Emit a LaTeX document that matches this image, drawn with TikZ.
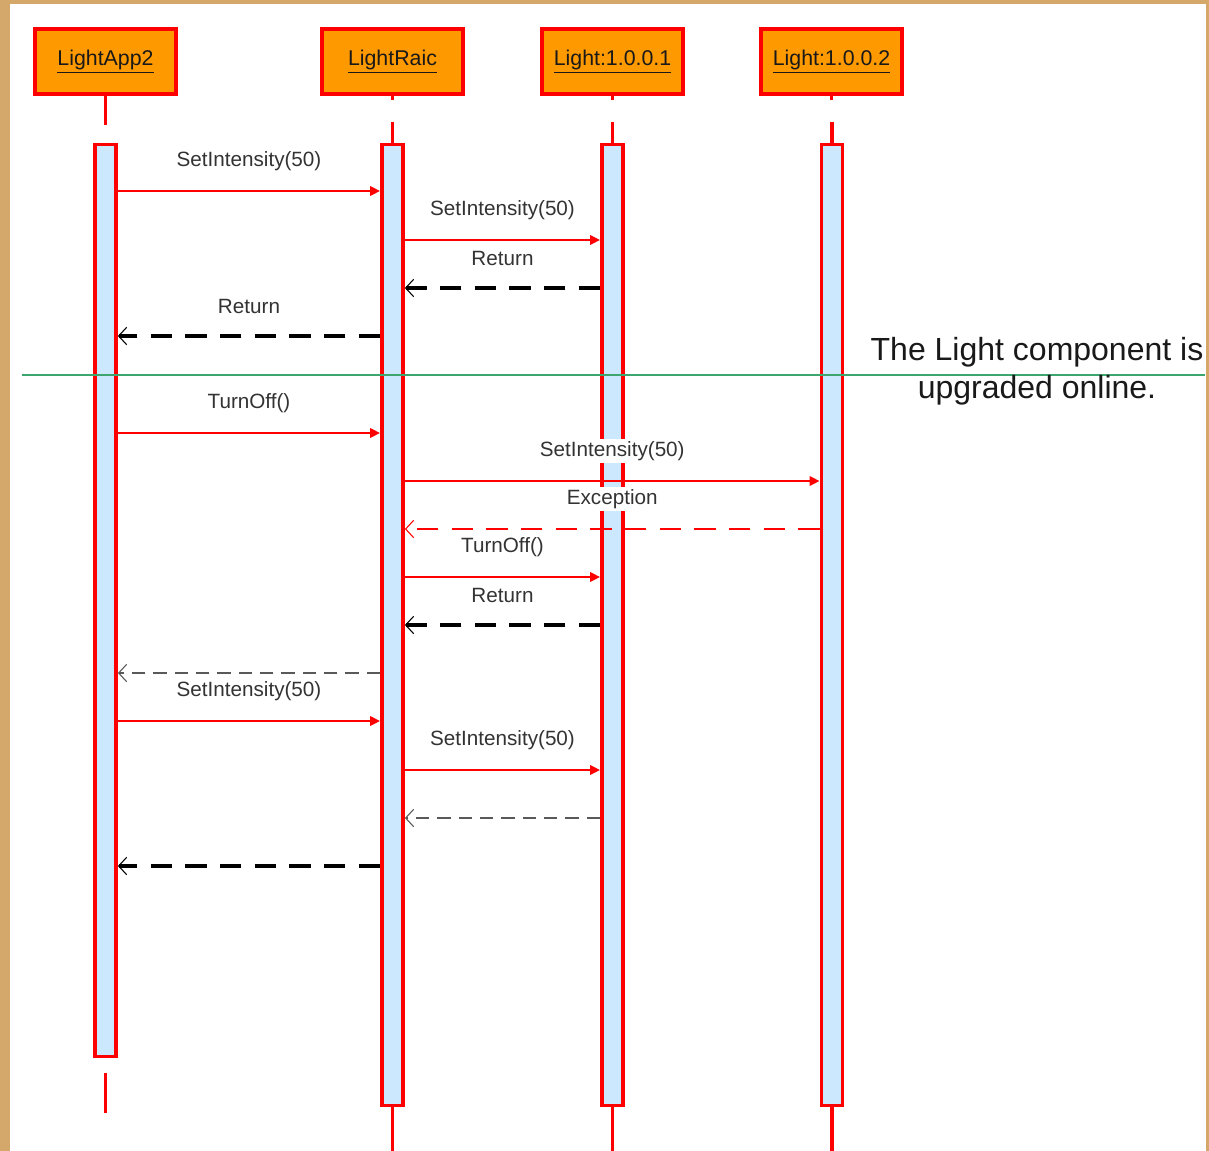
\documentclass[tikz,border=0pt]{standalone}
\usepackage{fontspec}
\setmainfont{Liberation Sans}
\usetikzlibrary{arrows.meta}
\definecolor{tanbg}{HTML}{D4A86A}
\definecolor{headfill}{HTML}{FF9900}
\definecolor{barfill}{HTML}{CCE8FF}
\definecolor{linered}{HTML}{FF0000}
\definecolor{sepgreen}{HTML}{3CA66E}
\definecolor{txt}{HTML}{333333}
\begin{document}
\begin{tikzpicture}[x=0.75pt,y=-0.75pt,
  head/.style={draw=linered, line width=2.8pt, fill=headfill, minimum width=106pt, minimum height=49pt, inner sep=0pt, font=\fontsize{16}{18}\selectfont, text=black!90},
  bar/.style={draw=linered, line width=2.6pt, fill=barfill, minimum width=16pt, inner sep=0pt},
  life/.style={draw=linered, line width=2.4pt},
  call/.style={draw=linered, line width=1.6pt, -{Triangle[length=7.5pt,width=7pt]}, linered},
  ret/.style={draw=black, line width=2.4pt, dash pattern=on 16pt off 10pt, -{Straight Barb[length=6pt,width=13pt,line width=0.8pt]}},
  retthin/.style={draw=black!65, line width=1.4pt, dash pattern=on 10pt off 6pt, -{Straight Barb[length=6pt,width=13pt,line width=0.8pt]}},
  exc/.style={draw=linered, line width=1.5pt, dash pattern=on 16pt off 10pt, -{Straight Barb[length=6pt,width=13pt,line width=0.8pt]}},
  lbl/.style={fill=white, inner sep=1.5pt, text=txt, font=\fontsize{15.5}{17}\selectfont, yshift=22.5pt}
]
\useasboundingbox (0,0) rectangle (1209,1151);
\fill[tanbg] (0,0) rectangle (1209,1151);
\fill[white] (10,4) rectangle (1206,1151);

% heads
\node[head] (h1) at (105.5,61.5) {\underline{LightApp2}};
\node[head] (h2) at (392.5,61.5) {\underline{LightRaic}};
\node[head] (h3) at (612.5,61.5) {\underline{Light:1.0.0.1}};
\node[head] (h4) at (831.5,61.5) {\underline{Light:1.0.0.2}};

% activation bars
\node[bar, minimum height=684pt] (b1) at (105.5,600.5) {};
\node[bar, minimum height=720.75pt] (b2) at (392.5,625) {};
\node[bar, minimum height=720.75pt] (b3) at (612.5,625) {};
\node[bar, minimum height=720.75pt] (b4) at (832,625) {};

% lifeline stubs
\draw[life] (h1.south) -- ++(0,29);
\draw[life] (b1.south) ++(0,15) coordinate (l1a) -- ++(0,40) coordinate (l1b);
\foreach \h/\b in {h2/b2,h3/b3,h4/b4}{
  \draw[life] (\h.south) -- ++(0,4);
  \draw[life] (\b.north) -- ++(0,-21);
  \draw[life] (\b.south) -- ++(0,46);
}

% separator
\draw[sepgreen, line width=1.5pt] (22,375) coordinate (g1) -- (1205,375) coordinate (g2);
\node[align=center, font=\fontsize{24}{28.5}\selectfont, text=black!90, inner sep=0pt] (note) at (1037,371) {The Light component is\\upgraded online.};

% messages
\draw[call] (b1.east |- 0,191) -- (b2.west |- 0,191) node[lbl, midway] (m1) {SetIntensity(50)};
\draw[call] (b2.east |- 0,240) -- (b3.west |- 0,240) node[lbl, midway] (m2) {SetIntensity(50)};
\draw[ret] (b3.west |- 0,288) -- (b2.east |- 0,288) node[lbl, midway] (m3) {Return};
\draw[ret] (b2.west |- 0,336) -- (b1.east |- 0,336) node[lbl, midway] (m4) {Return};
\draw[call] (b1.east |- 0,433) -- (b2.west |- 0,433) node[lbl, midway] (m5) {TurnOff()};
\draw[call] (b2.east |- 0,481) -- (b4.west |- 0,481) node[lbl, midway] (m6) {SetIntensity(50)};
\draw[exc] (b4.west |- 0,529) -- (b2.east |- 0,529) node[lbl, midway] (m7) {Exception};
\draw[call] (b2.east |- 0,577) -- (b3.west |- 0,577) node[lbl, midway] (m8) {TurnOff()};
\draw[ret] (b3.west |- 0,625) -- (b2.east |- 0,625) node[lbl, midway] (m9) {Return};
\draw[retthin] (b2.west |- 0,673) -- (b1.east |- 0,673);
\draw[call] (b1.east |- 0,721) -- (b2.west |- 0,721) node[lbl, midway] (m11) {SetIntensity(50)};
\draw[call] (b2.east |- 0,770) -- (b3.west |- 0,770) node[lbl, midway] (m12) {SetIntensity(50)};
\draw[retthin] (b3.west |- 0,818) -- (b2.east |- 0,818);
\draw[ret] (b2.west |- 0,866) -- (b1.east |- 0,866);
\end{tikzpicture}
\end{document}
